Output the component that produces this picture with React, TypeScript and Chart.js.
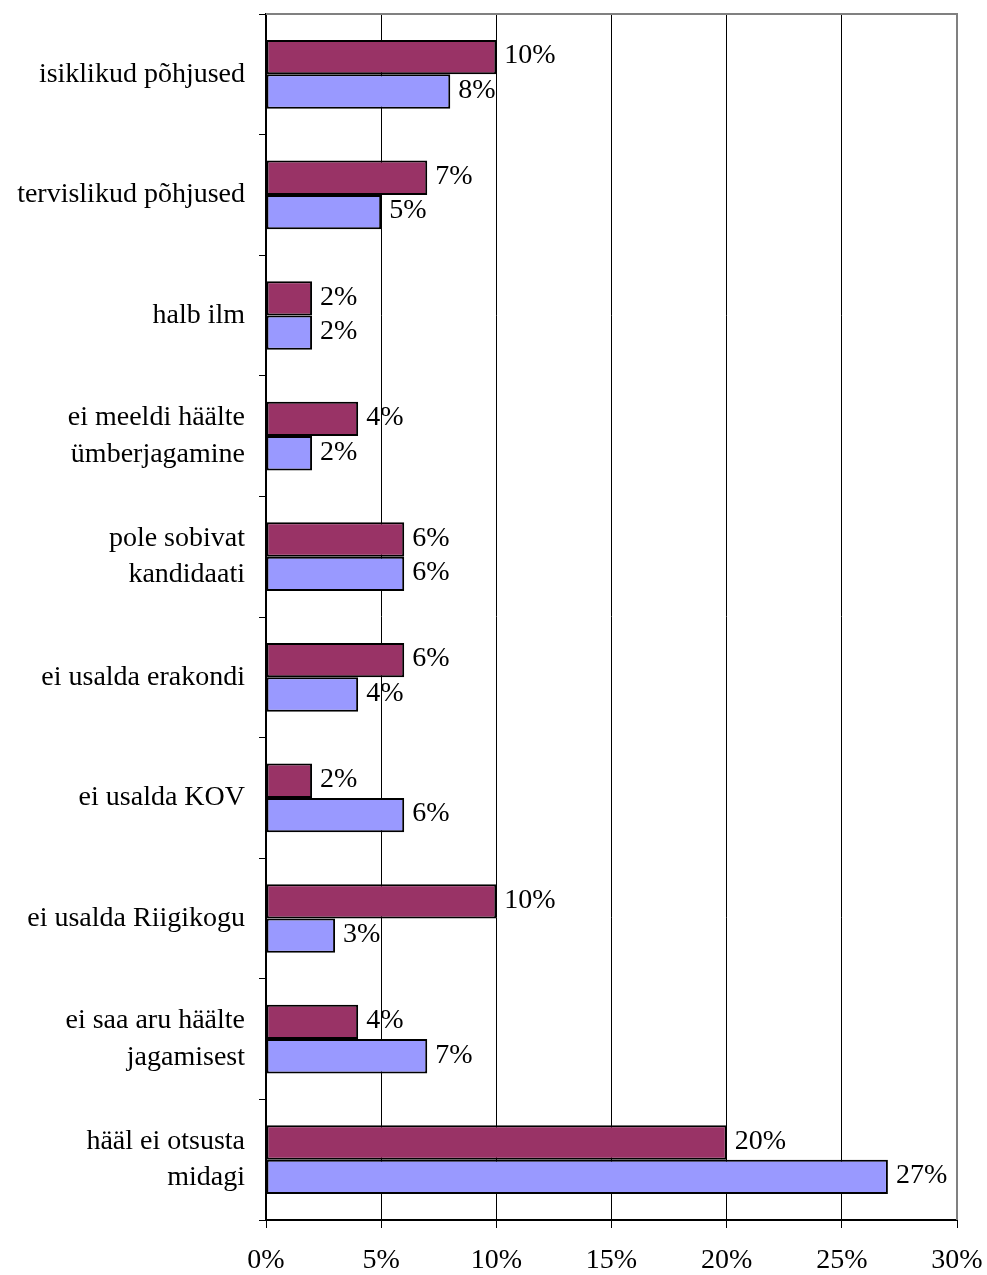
import React, { useEffect, useRef } from "react";
import { Chart, registerables } from "chart.js";

Chart.register(...registerables);

const categories: (string | string[])[] = [
  "isiklikud põhjused",
  "tervislikud põhjused",
  "halb ilm",
  ["ei meeldi häälte", "ümberjagamine"],
  ["pole sobivat", "kandidaati"],
  "ei usalda erakondi",
  "ei usalda KOV",
  "ei usalda Riigikogu",
  ["ei saa aru häälte", "jagamisest"],
  ["hääl ei otsusta", "midagi"],
];
const seriesA = [10, 7, 2, 4, 6, 6, 2, 10, 4, 20];
const seriesB = [8, 5, 2, 2, 6, 4, 6, 3, 7, 27];
const xTicks = [0, 5, 10, 15, 20, 25, 30];

const FONT = "'Liberation Serif', 'DejaVu Serif', serif";
const FONT_SIZE = 28;

const valueLabels = {
  id: "valueLabels",
  afterDatasetsDraw(chart: any) {
    const ctx = chart.ctx;
    ctx.save();
    ctx.font = `${FONT_SIZE}px ${FONT}`;
    ctx.fillStyle = "#000";
    ctx.textAlign = "left";
    ctx.textBaseline = "middle";
    chart.data.datasets.forEach((ds: any, i: number) => {
      const meta = chart.getDatasetMeta(i);
      meta.data.forEach((bar: any, j: number) => {
        ctx.fillText(`${ds.data[j]}%`, bar.x + 8, bar.y - 1);
      });
    });
    ctx.restore();
  },
};

const plotBorder = {
  id: "plotBorder",
  beforeDatasetsDraw(chart: any) {
    const { ctx, chartArea } = chart;
    ctx.save();
    ctx.strokeStyle = "#808080";
    ctx.lineWidth = 2;
    ctx.beginPath();
    ctx.moveTo(chartArea.left, chartArea.top);
    ctx.lineTo(chartArea.right, chartArea.top);
    ctx.lineTo(chartArea.right, chartArea.bottom);
    ctx.stroke();
    ctx.restore();
  },
};

export default function App() {
  const ref = useRef<HTMLCanvasElement>(null);
  useEffect(() => {
    if (!ref.current) return;
    const chart = new Chart(ref.current, {
      type: "bar",
      data: {
        labels: categories as any,
        datasets: [
          {
            data: seriesA,
            backgroundColor: "#993366",
            borderColor: "#000",
            borderWidth: 2,
            borderSkipped: false,
          },
          {
            data: seriesB,
            backgroundColor: "#9999FF",
            borderColor: "#000",
            borderWidth: 2,
            borderSkipped: false,
          },
        ],
      },
      options: {
        indexAxis: "y",
        animation: false,
        responsive: false,
        maintainAspectRatio: false,
        layout: { padding: { top: 14, right: 30, left: 0, bottom: 0 } },
        datasets: {
          bar: { categoryPercentage: 0.57, barPercentage: 1 },
        },
        plugins: {
          legend: { display: false },
          tooltip: { enabled: false },
        },
        scales: {
          x: {
            min: 0,
            max: 30,
            afterBuildTicks(scale: any) {
              scale.ticks = xTicks.map((v) => ({ value: v }));
            },
            afterFit(scale: any) {
              scale.height = 55;
              scale.paddingLeft = 0;
              scale.paddingRight = 0;
            },
            ticks: {
              callback: (v: any) => `${v}%`,
              color: "#000",
              font: { family: FONT, size: FONT_SIZE },
              padding: 16,
              maxRotation: 0,
            },
            grid: { color: "#000", lineWidth: 1, tickLength: 8 },
            border: { color: "#000", width: 2 },
          },
          y: {
            afterFit(scale: any) {
              scale.width = 266;
              scale.paddingTop = 0;
              scale.paddingBottom = 0;
            },
            ticks: {
              color: "#000",
              font: { family: FONT, size: FONT_SIZE, lineHeight: 1.3 },
              padding: 14,
            },
            grid: {
              drawOnChartArea: false,
              offset: true,
              color: "#000",
              tickLength: 7,
            },
            border: { color: "#000", width: 2 },
          },
        },
      },
      plugins: [plotBorder, valueLabels],
    });
    return () => chart.destroy();
  }, []);
  return (
    <div style={{ position: "absolute", left: 0, top: 0, width: 987, height: 1275, background: "#fff" }}>
      <canvas ref={ref} width={987} height={1275} style={{ width: 987, height: 1275 }} />
    </div>
  );
}
